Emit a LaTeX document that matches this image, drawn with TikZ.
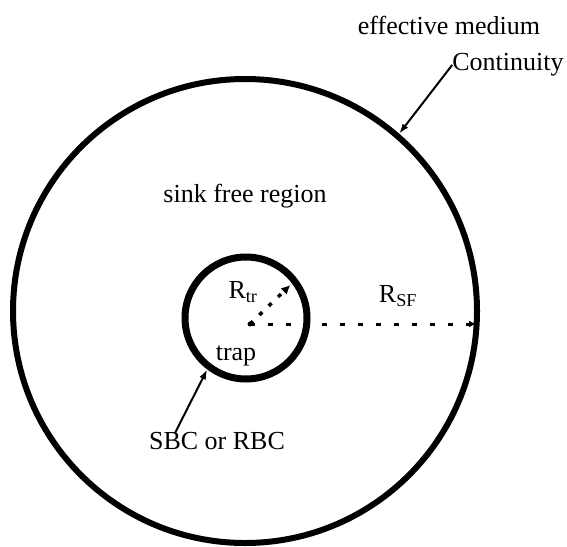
\documentclass[tikz,border=0pt]{standalone}
\usepackage{fontspec}
\setmainfont{Liberation Serif}
\usetikzlibrary{arrows.meta,calc}
\tikzset{
  boundary/.style={
    circle,
    draw=black,
    line width=6pt,
    inner sep=0pt
  },
  tag/.style={
    inner sep=0pt,
    font=\fontsize{26}{30}\selectfont
  },
  pointer/.style={
    -{Latex[length=10pt,width=7pt]},
    line width=2pt
  },
  radiusDots/.style={
    -{Latex[length=9pt,width=9pt]},
    line width=3.5pt,
    dash pattern=on 4pt off 9pt
  },
  radiusDash/.style={
    -{Latex[length=7pt,width=7pt]},
    line width=3pt,
    dash pattern=on 5pt off 13pt,
    shorten >=4pt
  }
}
\begin{document}
\begin{tikzpicture}[x=1pt,y=-1pt]
  \useasboundingbox (0,0) rectangle (567,546);
  % regions
  \node[boundary,minimum size=464pt] (medium) at (245,311) {};
  \node[boundary,line width=7pt,minimum size=122pt] (trapRegion) at (246,318) {};
  % labels
  \node[tag] (mediumLabel) at (449,25) {effective medium};
  \node[tag] (contLabel) at (508,65) {Continuity};
  \node[tag] (sinkLabel) at (245,196) {sink free region};
  \node[tag] (rtrLabel) at (243,292) {R\textsubscript{tr}};
  \node[tag] (rsfLabel) at (398,296) {R\textsubscript{SF}};
  \node[tag] (trapLabel) at (236,356) {trap};
  \node[tag] (bcLabel) at (217,441) {SBC or RBC};
  % radii
  \coordinate (core) at (250,324);
  \fill (core) circle (2.5pt);
  \draw[radiusDots] (core) -- ($(core)+(44:56pt)$);
  \draw[radiusDash] (core) -- (core -| medium.east);
  % boundary conditions
  \coordinate (bcTail) at (175,433);
  \draw[pointer] (contLabel.west) -- (medium.49);
  \draw[pointer] (bcTail) -- (trapRegion.233);
\end{tikzpicture}
\end{document}
